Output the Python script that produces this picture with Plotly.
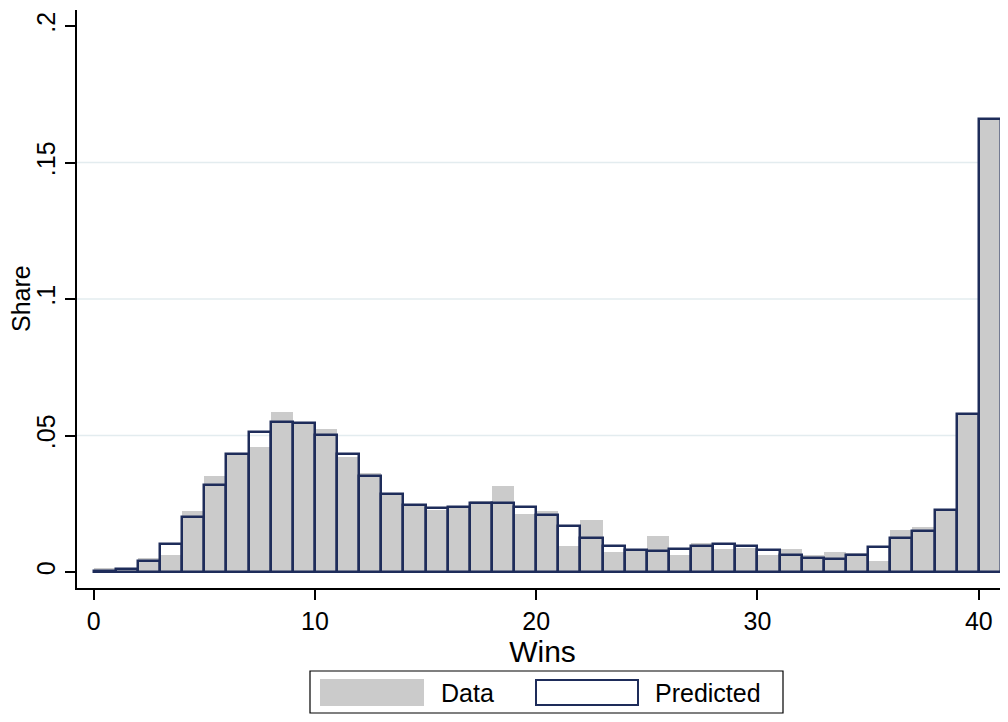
import plotly.graph_objects as go

# wins 0..40, share of teams
wins = list(range(41))
data_share = [0.0015, 0.0008, 0.0050, 0.0063, 0.0225, 0.0352, 0.0430, 0.0457, 0.0585, 0.0545,
              0.0525, 0.0420, 0.0364, 0.0290, 0.0246, 0.0228, 0.0240, 0.0259, 0.0316, 0.0214,
              0.0225, 0.0097, 0.0189, 0.0074, 0.0078, 0.0131, 0.0062, 0.0107, 0.0086, 0.0089,
              0.0063, 0.0085, 0.0061, 0.0074, 0.0068, 0.0040, 0.0155, 0.0164, 0.0225, 0.0580,
              0.1660]
pred_share = [0.0005, 0.0011, 0.0040, 0.0104, 0.0203, 0.0320, 0.0431, 0.0513, 0.0550, 0.0547,
              0.0503, 0.0433, 0.0353, 0.0284, 0.0244, 0.0233, 0.0239, 0.0251, 0.0253, 0.0239,
              0.0208, 0.0168, 0.0126, 0.0096, 0.0080, 0.0077, 0.0085, 0.0095, 0.0101, 0.0097,
              0.0082, 0.0064, 0.0052, 0.0047, 0.0061, 0.0091, 0.0124, 0.0149, 0.0227, 0.0580,
              0.1660]

x_ticks = [0, 10, 20, 30, 40]
y_ticks = [0, 0.05, 0.1, 0.15, 0.2]
y_tick_text = ["0", ".05", ".1", ".15", ".2"]
grid_vals = [0.05, 0.1, 0.15]

GRAY = "#cbcbcb"
NAVY = "#1e2c5a"
FONT = "Liberation Sans, Arial, Helvetica, sans-serif"
# page has an 8px body margin; keep the figure inside the window (no scrollbars)
OFF = 8
W, H = 1000, 706
ML, MR, MT, MB = 77 - OFF, 0, 10 - OFF, 126


def px(x, y):
    # page pixel -> paper coords
    x -= OFF
    y -= OFF
    return (x - ML) / (W - ML - MR), (H - MB - y) / (H - MT - MB)


fig = go.Figure()
fig.add_trace(go.Bar(x=wins, y=data_share, width=1, offset=0,
                     marker=dict(color=GRAY, line=dict(width=0)), name="Data"))
fig.add_trace(go.Bar(x=wins, y=pred_share, width=1, offset=0,
                     marker=dict(color="rgba(0,0,0,0)", line=dict(color=NAVY, width=2.5)),
                     name="Predicted"))

shapes = []
for g in grid_vals:
    shapes.append(dict(type="line", xref="paper", x0=0, x1=1, yref="y", y0=g, y1=g,
                       line=dict(color="#e3ecef", width=1.5), layer="below"))

# legend drawn by hand (wide swatches like the original)
x0, y0 = px(310, 671)
x1, y1 = px(783, 713)
shapes.append(dict(type="rect", xref="paper", yref="paper", x0=x0, y0=y0, x1=x1, y1=y1,
                   line=dict(color="black", width=1.2), fillcolor="white"))
a0, b0 = px(320, 679)
a1, b1 = px(424, 706)
shapes.append(dict(type="rect", xref="paper", yref="paper", x0=a0, y0=b0, x1=a1, y1=b1,
                   line=dict(width=0), fillcolor=GRAY))
a0, b0 = px(536, 680)
a1, b1 = px(638, 705)
shapes.append(dict(type="rect", xref="paper", yref="paper", x0=a0, y0=b0, x1=a1, y1=b1,
                   line=dict(color=NAVY, width=2), fillcolor="white"))

annotations = []
for label, xp in [("Data", 439), ("Predicted", 653)]:
    ax, ay = px(xp, 693)
    annotations.append(dict(text=label, x=ax, y=ay, xref="paper", yref="paper",
                            xanchor="left", yanchor="middle", showarrow=False,
                            font=dict(size=25, color="black", family=FONT)))
# y axis title
ax, ay = px(21, 299)
annotations.append(dict(text="Share", x=ax, y=ay, xref="paper", yref="paper",
                        textangle=-90, xanchor="center", yanchor="middle", showarrow=False,
                        font=dict(size=25, color="black", family=FONT)))

fig.update_layout(
    width=W, height=H,
    margin=dict(l=ML, r=MR, t=MT, b=MB),
    plot_bgcolor="white", paper_bgcolor="white",
    barmode="overlay", bargap=0, showlegend=False,
    font=dict(family=FONT, size=25, color="black"),
    shapes=shapes, annotations=annotations,
    xaxis=dict(range=[-0.75, 41.32], tickvals=x_ticks, ticks="outside", ticklen=10,
               tickwidth=1.5, tickcolor="black", showline=True, linecolor="black",
               linewidth=1.5, showgrid=False, zeroline=False,
               title=dict(text="Wins", standoff=2)),
    yaxis=dict(range=[-0.00586, 0.2059], tickvals=y_ticks, ticktext=y_tick_text,
               tickangle=-90, ticks="outside", ticklen=10, tickwidth=1.5, tickcolor="black",
               showline=True, linecolor="black", linewidth=1.5, showgrid=False,
               zeroline=False, ticklabelstandoff=0),
)

fig.write_html("out.html")
